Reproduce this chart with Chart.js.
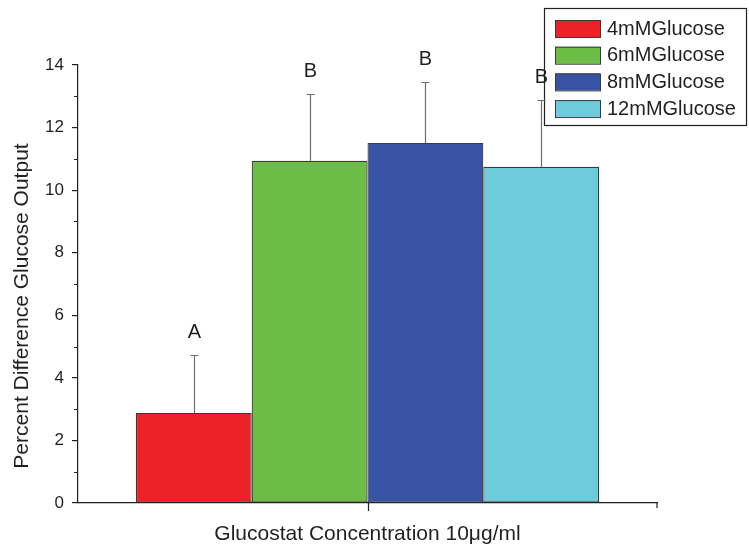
<!DOCTYPE html>
<html>
<head>
<meta charset="utf-8">
<script src="https://cdn.jsdelivr.net/npm/chart.js@4.4.1/dist/chart.umd.min.js"></script>
<style>
  body { margin: 0; background: #fff; }
  #wrap { width: 749px; height: 550px; }
</style>
</head>
<body>
<div id="wrap"><canvas id="myChart" width="749" height="550"></canvas></div>
<script>
// datos
const categories = ['Glucostat 10ug/ml'];
const seriesNames = ['4mMGlucose', '6mMGlucose', '8mMGlucose', '12mMGlucose'];
const means = [2.88, 10.94, 11.51, 10.75];
const errTops = [4.73, 13.08, 13.47, 12.87];
const letters = ['A', 'B', 'B', 'B'];
const colors = ['#ec2227', '#6cbd45', '#3953a4', '#6dcbdc'];
const yTicks = [0, 2, 4, 6, 8, 10, 12, 14];
const yTitle = 'Percent Difference Glucose Output';

const FONT = '"Liberation Sans", Arial, sans-serif';

// leyenda con marco
const legendPlugin = {
    id: 'boxLegend',
    afterDraw(chart) {
        const c = chart.ctx;
        c.save();
        c.fillStyle = '#fff';
        c.fillRect(544, 8, 202, 117);
        c.strokeStyle = '#231f20';
        c.lineWidth = 1.2;
        c.strokeRect(544.5, 8.5, 202, 117);
        c.font = '20px ' + FONT;
        c.textBaseline = 'middle';
        seriesNames.forEach((name, i) => {
            const cy = 28 + i * 26.7;
            c.fillStyle = colors[i];
            c.fillRect(555, cy - 8, 45, 17);
            c.strokeStyle = '#3a3a3a';
            c.lineWidth = 1;
            c.strokeRect(555.5, cy - 7.5, 45, 17);
            c.fillStyle = '#231f20';
            c.fillText(name, 607, cy + 1);
        });
        c.restore();
    }
};

// barras de error y letras (encima de la leyenda)
const errorPlugin = {
    id: 'errorBars',
    afterDraw(chart) {
        const c = chart.ctx;
        const y = chart.scales.y;
        chart.data.datasets.forEach((ds, i) => {
            const bar = chart.getDatasetMeta(i).data[0];
            const x = Math.round(bar.x) + 0.5;
            const top = Math.round(y.getPixelForValue(errTops[i])) + 0.5;
            c.save();
            c.strokeStyle = '#6d6e70';
            c.lineWidth = 1.2;
            c.beginPath();
            c.moveTo(x, bar.y);
            c.lineTo(x, top);
            c.moveTo(x - 4, top);
            c.lineTo(x + 4, top);
            c.stroke();
            c.fillStyle = '#231f20';
            c.font = '20px ' + FONT;
            c.textAlign = 'center';
            c.textBaseline = 'alphabetic';
            c.fillText(letters[i], x, top - 18);
            c.restore();
        });
    }
};

// ticks menores, marcas del eje x y titulo del eje y
const axisPlugin = {
    id: 'axisMarks',
    afterDraw(chart) {
        const c = chart.ctx;
        const y = chart.scales.y;
        const a = chart.chartArea;
        c.save();
        c.strokeStyle = '#231f20';
        c.lineWidth = 1.2;
        c.beginPath();
        for (let v = 1; v < 14; v += 2) {
            const py = Math.round(y.getPixelForValue(v)) + 0.5;
            c.moveTo(a.left, py);
            c.lineTo(a.left - 4, py);
        }
        const cx = Math.round((a.left + a.right) / 2) + 0.5;
        c.moveTo(cx, a.bottom);
        c.lineTo(cx, a.bottom + 8);
        c.moveTo(a.right, a.bottom);
        c.lineTo(a.right, a.bottom + 5);
        c.stroke();

        c.translate(22, 306);
        c.rotate(-Math.PI / 2);
        c.fillStyle = '#231f20';
        c.font = '21px ' + FONT;
        c.textAlign = 'center';
        c.textBaseline = 'middle';
        c.fillText(yTitle, 0, 0);
        c.restore();
    }
};

const ctx = document.getElementById('myChart').getContext('2d');

const myChart = new Chart(ctx, {
    type: 'bar',
    data: {
        labels: categories,
        datasets: seriesNames.map((name, i) => ({
            label: name,
            data: [means[i]],
            backgroundColor: colors[i],
            borderColor: '#3a3a3a',
            borderWidth: 1.2,
            borderSkipped: false,
            categoryPercentage: 0.8,
            barPercentage: 1.0
        }))
    },
    options: {
        responsive: false,
        animation: false,
        layout: { padding: { top: 65, right: 92, left: 0, bottom: 0 } },
        plugins: {
            legend: { display: false },
            tooltip: { enabled: false }
        },
        scales: {
            x: {
                grid: { display: false, drawTicks: false },
                border: { color: '#231f20', width: 1.2 },
                ticks: { display: false },
                title: {
                    display: true,
                    text: 'Glucostat Concentration 10μg/ml',
                    color: '#231f20',
                    font: { family: FONT, size: 21 },
                    padding: { top: 10, bottom: 3 }
                },
                afterFit(scale) { scale.height = 47; }
            },
            y: {
                min: 0,
                max: 14,
                afterBuildTicks(scale) {
                    scale.ticks = yTicks.map(v => ({ value: v }));
                },
                grid: { drawOnChartArea: false, drawTicks: true, tickLength: 6, color: '#231f20', lineWidth: 1.2 },
                border: { color: '#231f20', width: 1.2 },
                ticks: {
                    color: '#231f20',
                    font: { family: FONT, size: 17 },
                    padding: 8
                },
                afterFit(scale) { scale.width = 78; }
            }
        }
    },
    plugins: [legendPlugin, errorPlugin, axisPlugin]
});
</script>
</body>
</html>
